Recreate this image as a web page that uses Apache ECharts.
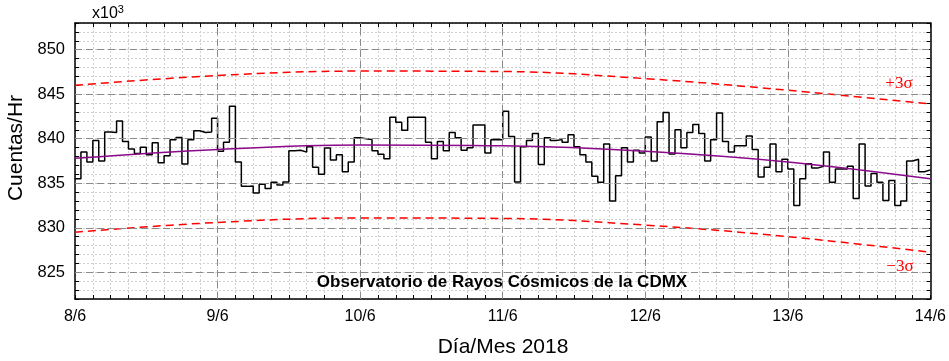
<!DOCTYPE html>
<html><head><meta charset="utf-8">
<script src="https://cdn.jsdelivr.net/npm/echarts@6/dist/echarts.min.js"></script>
<style>html,body{margin:0;padding:0;background:#fff}#c{width:949px;height:361px}</style>
</head><body><div id="c"></div>
<script>
// x axis: hours since 8/6 00:00
const dayLabels = ['8/6','9/6','10/6','11/6','12/6','13/6','14/6'];
const dayTicks = [24, 48, 72, 96, 120];
const yMajorTicks = [825, 830, 835, 840, 845, 850];

// hourly counts (x10^3)
const counts = [
835.5, 838.5, 837.4, 839.8, 837.5, 840.75, 840.7, 842.0, 839.7, 838.85,
838.35, 839.05, 838.2, 839.55, 837.3, 838.1, 839.9, 840.15, 837.15, 839.9,
840.9, 840.7, 840.75, 842.3, 838.6, 839.6, 843.65, 837.4, 834.65, 834.7,
833.9, 834.9, 834.4, 835.1, 834.8, 835.15, 838.65, 838.7, 838.5, 839.1,
836.8, 836.0, 838.95, 837.6, 838.2, 836.3, 837.4, 840.1, 840.0, 839.9,
838.65, 838.25, 837.75, 842.4, 841.85, 840.95, 842.4, 842.4, 842.4, 839.6,
837.75, 839.7, 838.65, 840.7, 840.1, 838.7, 839.0, 841.55, 841.55, 838.4,
839.9, 839.9, 843.1, 840.25, 835.15, 839.1, 839.8, 840.6, 837.1, 840.1,
839.8, 839.9, 839.6, 840.45, 839.1, 838.2, 837.4, 835.8, 835.1, 839.4,
833.0, 835.85, 839.0, 837.4, 838.7, 838.4, 840.2, 837.5, 841.9, 842.95,
838.3, 841.0, 839.0, 840.7, 841.6, 840.6, 837.5, 839.9, 842.9, 839.7,
838.5, 839.2, 839.2, 840.3, 838.8, 835.7, 836.8, 839.4, 836.3, 837.7,
836.6, 832.5, 835.5, 837.2, 836.7, 836.9, 838.5, 835.1, 836.6, 836.6,
836.9, 833.3, 839.4, 834.7, 836.1, 835.1, 833.05, 835.3, 832.5, 833.0,
837.5, 837.7, 836.3, 836.5
];

// fitted trend and ±3σ bands, read at each day
const fitHours = [0, 24, 48, 72, 96, 120, 144];
const fitValues = [837.8, 838.8, 839.3, 839.2, 838.6, 837.4, 835.5];
const upperValues = [846.0, 847.1, 847.6, 847.55, 846.75, 845.45, 843.9];
const lowerValues = [829.5, 830.6, 831.1, 831.05, 830.3, 829.0, 827.25];

const stepData = counts.map((v, i) => [i, v]);
stepData.push([counts.length, counts[counts.length - 1]]);
const pair = (xs, ys) => xs.map((x, i) => [x, ys[i]]);

const FONT = 'Liberation Sans, Arial, sans-serif';
const chart = echarts.init(document.getElementById('c'), null, {renderer: 'canvas'});

const commonX = {
  type: 'value', min: 0, max: 144, interval: 3, gridIndex: 0,
  axisLine: {show: true, onZero: false, lineStyle: {color: '#000', width: 1.5}},
  axisTick: {show: true, inside: true, length: 4, lineStyle: {color: '#000', width: 1}},
};
const commonY = {
  type: 'value', min: 822, max: 853, interval: 1, gridIndex: 0,
  axisLine: {show: true, onZero: false, lineStyle: {color: '#000', width: 1.5}},
  axisTick: {show: true, inside: true, length: 4, lineStyle: {color: '#000', width: 1}},
};

chart.setOption({
  animation: false,
  backgroundColor: '#fff',
  grid: {left: 75, right: 17, top: 23, bottom: 62, containLabel: false},
  xAxis: [
    Object.assign({}, commonX, {
      position: 'bottom',
      axisLabel: {
        show: true, margin: 10, color: '#000', fontSize: 16, fontFamily: FONT,
        showMinLabel: true, showMaxLabel: true,
        formatter: v => (v % 24 === 0 ? dayLabels[v / 24] : '')
      },
      splitLine: {show: true, lineStyle: {color: '#d0d0d0', width: 1, type: [2, 2]}}
    }),
    Object.assign({}, commonX, {
      position: 'top', axisLabel: {show: false}, splitLine: {show: false}
    })
  ],
  yAxis: [
    Object.assign({}, commonY, {
      position: 'left',
      axisLabel: {
        show: true, margin: 10, color: '#000', fontSize: 16.5, fontFamily: FONT,
        formatter: v => (v % 5 === 0 ? String(v) : '')
      },
      splitLine: {show: true, lineStyle: {color: '#d0d0d0', width: 1, type: [2, 2]}}
    }),
    Object.assign({}, commonY, {
      position: 'right', axisLabel: {show: false}, splitLine: {show: false}
    })
  ],
  series: [
    {
      name: 'majorgrid', type: 'line', data: stepData, z: 1, silent: true,
      showSymbol: false, lineStyle: {opacity: 0},
      markLine: {
        silent: true, symbol: 'none', animation: false,
        label: {show: false},
        lineStyle: {color: '#8a8a8a', width: 1, type: [7, 4]},
        data: yMajorTicks.map(v => ({yAxis: v})).concat(dayTicks.map(h => ({xAxis: h})))
      }
    },
    {
      name: 'upper', type: 'line', data: pair(fitHours, upperValues), smooth: 0.4, z: 3,
      showSymbol: false, lineStyle: {color: '#ff0000', width: 1.5, type: [8, 5]}
    },
    {
      name: 'lower', type: 'line', data: pair(fitHours, lowerValues), smooth: 0.4, z: 3,
      showSymbol: false, lineStyle: {color: '#ff0000', width: 1.5, type: [8, 5]}
    },
    {
      name: 'counts', type: 'line', step: 'end', data: stepData, z: 4,
      showSymbol: false, lineStyle: {color: '#000', width: 1.5}
    },
    {
      name: 'fit', type: 'line', data: pair(fitHours, fitValues), smooth: 0.4, z: 5,
      showSymbol: false, lineStyle: {color: '#8b0a8b', width: 1.5}
    }
  ],
  graphic: [
    {type: 'text', left: 92, top: 4, z: 10, style: {
      text: '{a|x10}{b|3}', rich: {
        a: {fontSize: 16, fontFamily: FONT, fill: '#000', verticalAlign: 'bottom', lineHeight: 18},
        b: {fontSize: 11, fontFamily: FONT, fill: '#000', verticalAlign: 'top', lineHeight: 18, padding: [0, 0, 8, 0]}
      }
    }},
    {type: 'text', x: 16, y: 148, rotation: Math.PI / 2, z: 10, style: {
      text: 'Cuentas/Hr', fontSize: 21, fontFamily: FONT, fill: '#000',
      align: 'center', verticalAlign: 'middle'
    }},
    {type: 'text', x: 503, y: 347, z: 10, style: {
      text: 'Día/Mes 2018', fontSize: 21, fontFamily: FONT, fill: '#000',
      align: 'center', verticalAlign: 'middle'
    }},
    {type: 'text', x: 502, y: 282, z: 10, style: {
      text: 'Observatorio de Rayos Cósmicos de la CDMX', fontSize: 17, fontWeight: 'bold',
      fontFamily: FONT, fill: '#000', align: 'center', verticalAlign: 'middle'
    }},
    {type: 'text', x: 899, y: 84, z: 10, style: {
      text: '+3σ', fontSize: 17, fontFamily: 'Liberation Serif, Times New Roman, serif',
      fill: '#ff0000', align: 'center', verticalAlign: 'middle'
    }},
    {type: 'text', x: 900, y: 267, z: 10, style: {
      text: '\u22123σ', fontSize: 17, fontFamily: 'Liberation Serif, Times New Roman, serif',
      fill: '#ff0000', align: 'center', verticalAlign: 'middle'
    }}
  ]
});
</script>
</body></html>
